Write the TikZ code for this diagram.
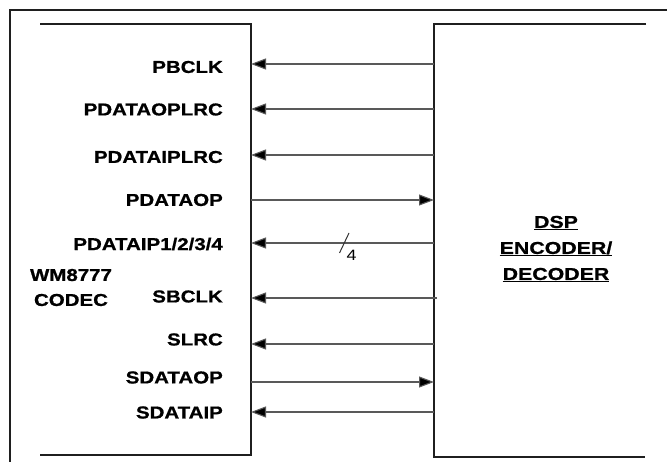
\documentclass[tikz,border=0pt]{standalone}
\usepackage{fontspec}
\setmainfont{Liberation Sans}
\newfontfamily\labfont[FakeStretch=1.19, BoldFeatures={FakeBold=0.9}]{Liberation Sans}
\newfontfamily\dspfont[FakeStretch=1.24, BoldFeatures={FakeBold=0.9}]{Liberation Sans}
\usetikzlibrary{arrows.meta}
\tikzset{
  frame/.style={draw=black!88, line width=1.8bp},
  sig/.style={draw=black!65, line width=1.1bp, -{Triangle[length=15bp,width=11bp,fill=black]}},
  lbl/.style={anchor=east, inner sep=0pt, font=\labfont\bfseries\fontsize{17.2bp}{20bp}\selectfont},
  big/.style={align=center, inner sep=0pt, font=\labfont\bfseries\fontsize{17.2bp}{25bp}\selectfont},
  dspst/.style={align=center, inner sep=0pt, font=\dspfont\bfseries\fontsize{17.2bp}{26bp}\selectfont}
}
\begin{document}
\begin{tikzpicture}[x=1bp,y=-1bp]
\useasboundingbox (0,0) rectangle (667,462);
% outer frame
\draw[frame] (10,462) -- (10,10) -- (667,10);
% codec box (bracket)
\draw[frame] (40,24) -- (251,24) -- (251,455) -- (40,455);
% DSP box
\draw[frame] (646,24) -- (434,24) -- (434,457) -- (645,457);
% coordinates
\foreach \n/\y in {a/64,b/109,c/155,d/200,e/243,f/298,g/344,h/382,i/412}{
  \coordinate (L\n) at (251,\y);
  \coordinate (R\n) at (434,\y);
}
\coordinate (Rf2) at (437,298);
% labels
\node[lbl] (pbclk) at (223,67) {PBCLK};
\node[lbl] (pdoplrc) at (223,109.5) {PDATAOPLRC};
\node[lbl] (pdiplrc) at (223,157) {PDATAIPLRC};
\node[lbl] (pdop) at (223,200) {PDATAOP};
\node[lbl] (pdip) at (223,244) {PDATAIP1/2/3/4};
\node[lbl] (sbclk) at (223,296.5) {SBCLK};
\node[lbl] (slrc) at (223,339.5) {SLRC};
\node[lbl] (sdop) at (223,377.5) {SDATAOP};
\node[lbl] (sdip) at (223,412.5) {SDATAIP};
\node[big] (codec) at (71,287.5) {WM8777\\CODEC};
\node[dspst] (dsp) at (556,249) {\underline{DSP}\\\underline{ENCODER/}\\\underline{DECODER}};
% signals
\draw[sig] (Ra) -- (La);
\draw[sig] (Rb) -- (Lb);
\draw[sig] (Rc) -- (Lc);
\draw[sig] (Ld) -- (Rd);
\draw[sig] (Re) -- (Le);
\draw[sig] (Rf2) -- (Lf);
\draw[sig] (Rg) -- (Lg);
\draw[sig] (Lh) -- (Rh);
\draw[sig] (Ri) -- (Li);
% bus mark
\coordinate (s1) at (349,233);
\coordinate (s2) at (339.5,253);
\draw[black!80, line width=1bp] (s1) -- (s2);
\node[inner sep=0pt, font=\labfont\fontsize{15bp}{15bp}\selectfont] (four) at (351.5,255.5) {4};
\end{tikzpicture}
\end{document}
